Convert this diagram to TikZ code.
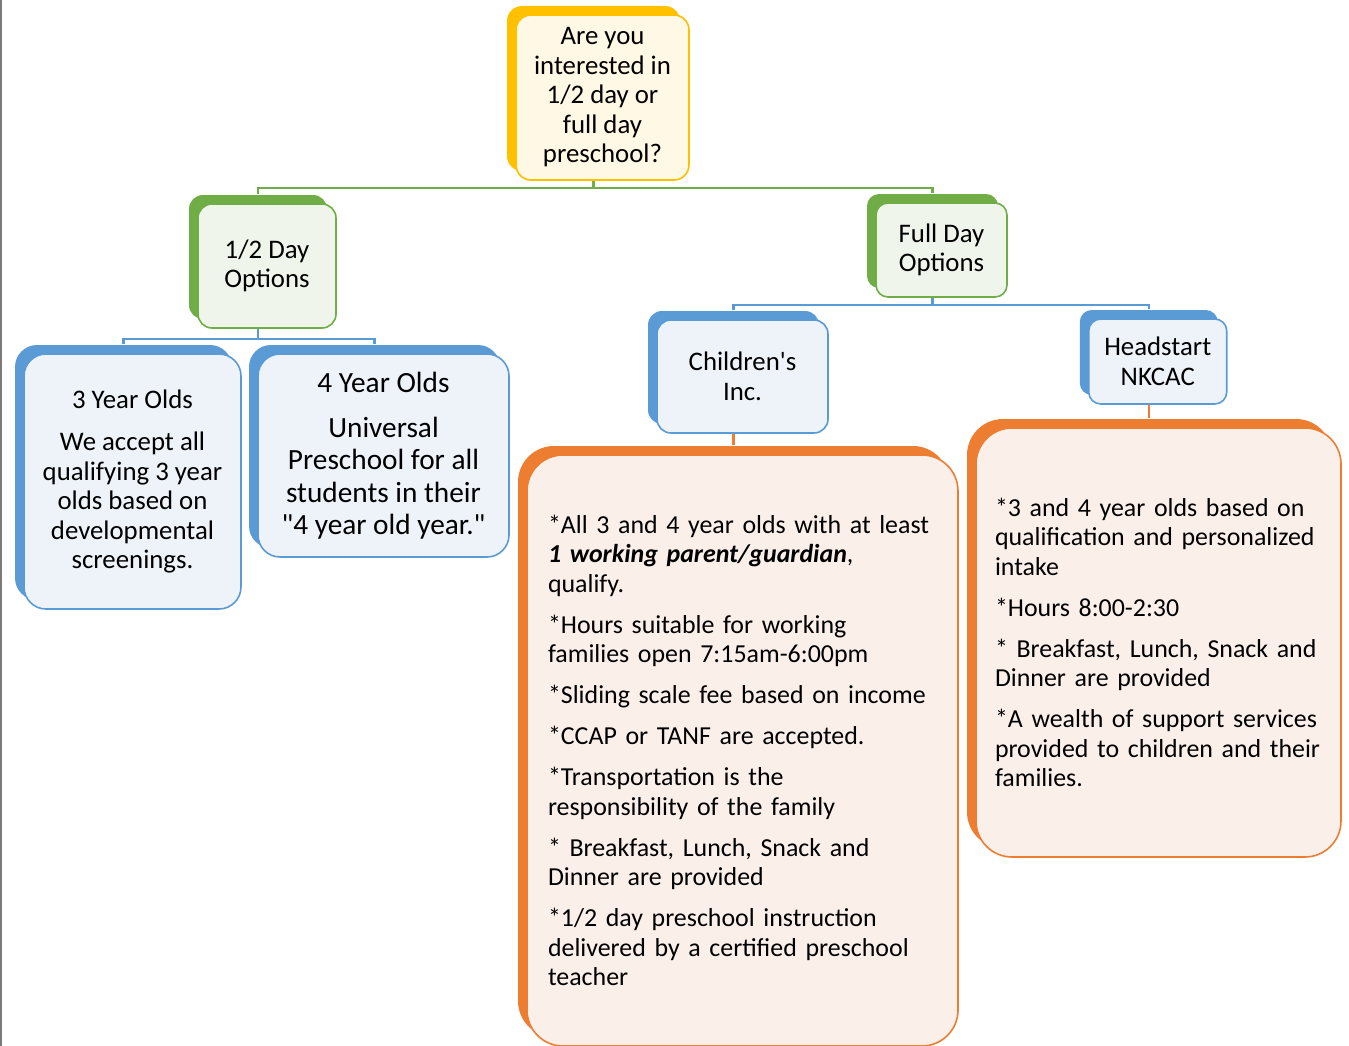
\documentclass[tikz,border=0pt]{standalone}
\usepackage{fontspec}
\setmainfont{Carlito}
\usepackage{tikz}
\usetikzlibrary{shadows}

\definecolor{ylw}{HTML}{FFC000}
\definecolor{ylwlight}{HTML}{FFF8E5}
\definecolor{grn}{HTML}{70AD47}
\definecolor{grnlight}{HTML}{F0F5EC}
\definecolor{blu}{HTML}{5B9BD5}
\definecolor{blulight}{HTML}{EEF3FA}
\definecolor{org}{HTML}{ED7D31}
\definecolor{orglight}{HTML}{FBEFEA}
\definecolor{edge}{HTML}{7F7A7A}

\begin{document}
\begin{tikzpicture}[x=1pt,y=-1pt,
    card/.style={draw=#1, line width=1.6pt, fill=#1light, inner sep=0pt,
        copy shadow={shadow xshift=-9pt, shadow yshift=9pt, fill=#1, draw=none}},
    plain/.style={align=center, font=\fontsize{26.8}{29.5}\selectfont},
    notes/.style={align=left, font=\fontsize{25.9}{29.5}\selectfont, rounded corners=36pt},
    bus/.style={draw=#1, line width=2.5pt}]

    \useasboundingbox (0,0) rectangle (1349,1046);
    \draw[edge,line width=2pt] (1,0) -- (1,1046);

    % question and the two options
    \node[card=ylw, plain, rounded corners=15pt, minimum width=173pt, minimum height=165pt] (q) at (602.5,97.5)
        {Are you\\ interested in\\ 1/2 day or\\ full day\\ preschool?};
    \node[card=grn, plain, rounded corners=14pt, minimum width=138pt, minimum height=124pt] (half) at (267,266)
        {1/2 Day\\ Options};
    \node[card=grn, plain, rounded corners=12pt, minimum width=131pt, minimum height=94pt] (full) at (941.5,250)
        {Full Day\\ Options};

    % 1/2 day
    \node[card=blu, plain, rounded corners=22pt, minimum width=217pt, minimum height=255pt] (three) at (132.5,481.5)
        {3 Year Olds\\[12.5pt] We accept all\\ qualifying 3 year\\ olds based on\\ developmental\\ screenings.};
    \node[card=blu, align=center, font=\fontsize{29.3}{32.5}\selectfont, rounded corners=22pt,
        minimum width=251pt, minimum height=203pt] (four) at (383.5,455.5)
        {4 Year Olds\\[12.5pt] Universal\\ Preschool for all\\ students in their\\ \textquotedbl 4 year old year.\textquotedbl};

    % full day
    \node[card=blu, plain, rounded corners=14pt, minimum width=171pt, minimum height=113pt] (chinc) at (742.5,376.5)
        {Children\textquotesingle s\\ Inc.};
    \node[card=blu, plain, rounded corners=12pt, minimum width=138pt, minimum height=85pt] (head) at (1157.75,361.5)
        {Headstart\\ NKCAC};

    \node[card=org, notes, text width=389pt, inner xsep=21pt, minimum height=591pt] (chinfo) at (742.5,750.5)
        {*All 3 and 4 year olds with at least\\ \textbf{\textit{1 working parent/guardian}},\\ qualify.\\[11.5pt]
         *Hours suitable for working\\ families open 7:15am-6:00pm\\[11.5pt]
         *Sliding scale fee based on income\\[11.5pt]
         *CCAP or TANF are accepted.\\[11.5pt]
         *Transportation is the\\ responsibility of the family\\[11.5pt]
         * Breakfast, Lunch, Snack and\\ Dinner are provided\\[11.5pt]
         *1/2 day preschool instruction\\ delivered by a certified preschool\\ teacher};
    \node[card=org, notes, text width=327pt, inner xsep=19pt, minimum height=429pt] (headinfo) at (1158.5,642.5)
        {*3 and 4 year olds based on\\ qualification and personalized\\ intake\\[11.5pt]
         *Hours 8:00-2:30\\[11.5pt]
         * Breakfast, Lunch, Snack and\\ Dinner are provided\\[11.5pt]
         *A wealth of support services\\ provided to children and their\\ families.};

    % connectors
    \draw[bus=grn] ([xshift=-9pt]q.south) -- ++(0,7) coordinate (qbus);
    \draw[bus=grn] (qbus) -| ([xshift=-9pt,yshift=9pt]half.north);
    \draw[bus=grn] (qbus) -| ([xshift=-9pt,yshift=9pt]full.north);

    \draw[bus=blu] ([xshift=-9pt]half.south) -- ++(0,10) coordinate (hbus);
    \draw[bus=blu] (hbus) -| ([xshift=-9pt,yshift=9pt]three.north);
    \draw[bus=blu] (hbus) -| ([xshift=-9pt,yshift=9pt]four.north);

    \draw[bus=blu] ([xshift=-9pt]full.south) -- ++(0,7) coordinate (fbus);
    \draw[bus=blu] (fbus) -| ([xshift=-9pt,yshift=9pt]chinc.north);
    \draw[bus=blu] (fbus) -| ([xshift=-9pt,yshift=9pt]head.north);

    \draw[bus=org] ([xshift=-9pt]chinc.south) -- ([xshift=-9pt,yshift=9pt]chinc.south |- chinfo.north);
    \draw[bus=org] ([xshift=-9pt]head.south) -- ([xshift=-9pt,yshift=9pt]head.south |- headinfo.north);

\end{tikzpicture}
\end{document}
